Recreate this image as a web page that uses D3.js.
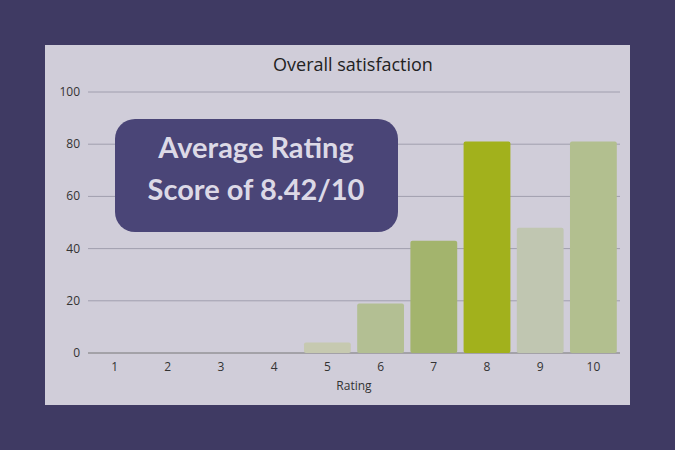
<!DOCTYPE html>
<html><head><meta charset="utf-8">
<script src="https://cdn.jsdelivr.net/npm/d3@7"></script>
<style>body{margin:0;background:#3f3a63;}</style>
</head><body>
<div id="chart"></div>
<script>
var ratings = ["1","2","3","4","5","6","7","8","9","10"];
var counts = [0,0,0,0,4,19,43,81,48,81];
var barColors = ["#c6c9b0","#c6c9b0","#c6c9b0","#c6c9b0","#c6c9b0","#b3bf93","#a3b46d","#a2b11c","#c0c6b1","#b2bf8f"];
var yTicks = [0,20,40,60,80,100];

var svg = d3.select("#chart").append("svg")
  .attr("width", 675).attr("height", 450)
  .style("font-family", "Open Sans, sans-serif");

svg.append("rect").attr("width",675).attr("height",450).attr("fill","#3f3a63");
svg.append("rect").attr("x",45).attr("y",45).attr("width",585).attr("height",360).attr("fill","#d0cdd9");

var x = d3.scaleBand().domain(ratings).range([88,620]).paddingInner(0.12).paddingOuter(0.06);
var y = d3.scaleLinear().domain([0,100]).range([353,92]);

svg.append("text").attr("x",353).attr("y",71).attr("text-anchor","middle")
  .attr("font-size",18).attr("fill","#222").text("Overall satisfaction");

// grid
svg.selectAll("line.grid").data(yTicks).enter().append("line")
  .attr("x1",88).attr("x2",620)
  .attr("y1",function(d){return y(d)}).attr("y2",function(d){return y(d)})
  .attr("stroke", function(d){return d===0 ? "#777" : "#a09eae"}).attr("stroke-width",1);

svg.selectAll("text.ytick").data(yTicks).enter().append("text")
  .attr("x",80).attr("y",function(d){return y(d)+4})
  .attr("text-anchor","end").attr("font-size",12).attr("fill","#333")
  .text(function(d){return d});

svg.selectAll("rect.bar").data(counts).enter().append("rect")
  .attr("x",function(d,i){return x(ratings[i])})
  .attr("width",x.bandwidth())
  .attr("y",function(d){return y(d)})
  .attr("height",function(d){return y(0)-y(d)})
  .attr("rx",2)
  .attr("fill",function(d,i){return barColors[i]});

svg.selectAll("text.xtick").data(ratings).enter().append("text")
  .attr("x",function(d){return x(d)+x.bandwidth()/2}).attr("y",371)
  .attr("text-anchor","middle").attr("font-size",12).attr("fill","#333")
  .text(function(d){return d});

svg.append("text").attr("x",354).attr("y",390).attr("text-anchor","middle")
  .attr("font-size",12).attr("fill","#333").text("Rating");

// annotation
svg.append("rect").attr("x",115).attr("y",119).attr("width",283).attr("height",113)
  .attr("rx",20).attr("fill","#4a4577");
svg.append("text").attr("x",256).attr("y",158).attr("text-anchor","middle")
  .attr("font-size",29).attr("font-weight","bold").attr("fill","#dcd9e6")
  .attr("font-family","Lato, sans-serif").text("Average Rating");
svg.append("text").attr("x",256).attr("y",200).attr("text-anchor","middle")
  .attr("font-size",29).attr("font-weight","bold").attr("fill","#dcd9e6")
  .attr("font-family","Lato, sans-serif").text("Score of 8.42/10");
</script>
</body></html>
